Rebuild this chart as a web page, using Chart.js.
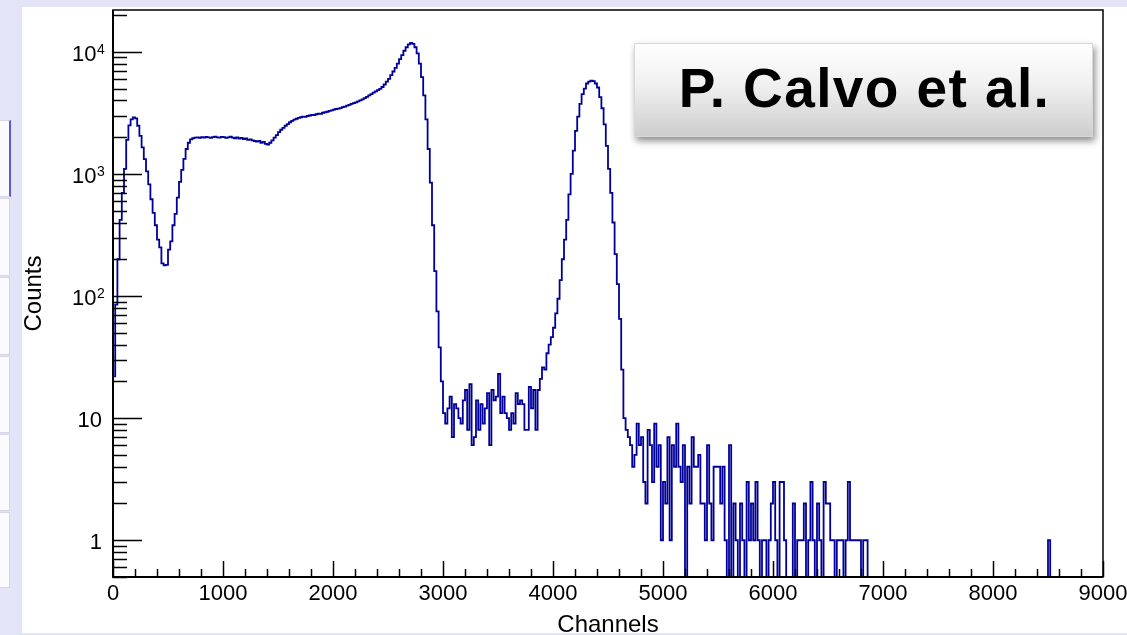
<!DOCTYPE html>
<html>
<head>
<meta charset="utf-8">
<title>Channels spectrum</title>
<script src="https://cdn.jsdelivr.net/npm/chart.js@4.4.1/dist/chart.umd.min.js"></script>
<style>
    html, body { margin: 0; padding: 0; }
    body {
        width: 1127px; height: 635px; overflow: hidden; position: relative;
        background: #e4e4f8;
    }
    #panel { position: absolute; left: 22px; top: 7px; width: 1105px; height: 626px; background: #fff; }
    .side { position: absolute; left: 0; width: 9px; background: #fbfbff; border: 1px solid #d4d4e6; border-left: none; }
</style>
</head>
<body>
<div class="side" style="top:120px;height:75px;border-right:2px solid #5a5ae0;"></div>
<div class="side" style="top:198px;height:76px;"></div>
<div class="side" style="top:277px;height:76px;"></div>
<div class="side" style="top:356px;height:75px;"></div>
<div class="side" style="top:434px;height:75px;"></div>
<div class="side" style="top:512px;height:74px;"></div>
<div id="panel"><canvas id="myChart" width="1105" height="626"></canvas></div>
<script>
// spectrum, 20 channels per bin starting at channel 0
const binWidth = 20;
const counts = [
    22, 85, 200, 420, 700, 1100, 1900, 2500, 2800, 2900,
    2850, 2480, 2050, 1650, 1320, 1050, 820, 620, 480, 380,
    290, 250, 185, 178, 180, 240, 280, 380, 470, 640,
    860, 1080, 1330, 1600, 1800, 1920, 1960, 1980, 1990, 1970,
    2000, 1980, 2010, 1990, 1970, 2000, 2020, 1990, 1980, 2010,
    // 1000
    2000, 1970, 1990, 2020, 1980, 1960, 1990, 1950, 1970, 1930,
    1950, 1900, 1920, 1880, 1860, 1840, 1860, 1800, 1830, 1760,
    1740, 1800, 1880, 1980, 2080, 2200, 2300, 2380, 2480, 2560,
    2650, 2720, 2780, 2830, 2880, 2910, 2950, 2930, 2980, 3010,
    3040, 3030, 3080, 3110, 3100, 3170, 3200, 3230, 3280, 3310,
    // 2000
    3360, 3400, 3430, 3460, 3520, 3560, 3620, 3680, 3740, 3800,
    3860, 3930, 4000, 4080, 4170, 4280, 4400, 4510, 4630, 4750,
    4860, 4980, 5150, 5400, 5700, 6000, 6450, 6900, 7400, 8000,
    8700, 9400, 10200, 10900, 11500, 11850, 11600, 10900, 9700, 8000,
    6200, 4400, 2800, 1600, 850, 380, 160, 75, 38, 20,
    // 3000
    11, 9, 12, 15, 7, 13, 12, 10, 9, 14,
    17, 8, 19, 6, 7, 14, 8, 13, 9, 12,
    16, 6, 17, 14, 15, 23, 11, 15, 11, 10,
    8, 11, 9, 16, 13, 14, 13, 8, 8, 18,
    12, 17, 8, 17, 21, 26, 25, 34, 40, 46,
    // 4000
    55, 72, 95, 135, 200, 290, 420, 680, 1000, 1550,
    2250, 2950, 3750, 4500, 5000, 5500, 5700, 5800, 5750, 5500,
    5100, 4250, 3450, 2550, 1700, 1100, 700, 400, 220, 125,
    65, 25, 10, 8, 7, 6, 4, 5, 9, 6,
    7, 3, 2, 8, 6, 3, 9, 4, 6, 1,
    // 5000
    3, 2, 7, 1, 6, 4, 9, 4, 3, 6,
    0, 4, 2, 7, 4, 4, 5, 2, 2, 1,
    6, 2, 1, 4, 4, 4, 2, 4, 1, 0,
    6, 0, 2, 1, 0, 2, 1, 0, 3, 1,
    2, 1, 3, 1, 0, 1, 1, 0, 1, 2,
    // 6000
    3, 1, 0, 3, 3, 1, 0, 0, 0, 2,
    0, 1, 1, 1, 2, 0, 1, 3, 1, 0,
    2, 1, 0, 3, 2, 2, 1, 1, 0, 1,
    1, 1, 0, 1, 3, 1, 1, 1, 1, 1,
    0, 1, 1, 0
];
// lone counts far above the last peak
const tailChannels = [8500];
const tailCounts = [1];

const xTicks = [0, 1000, 2000, 3000, 4000, 5000, 6000, 7000, 8000, 9000];
const yTicks = [1, 10, 100, 1000, 10000];
const yTickBase = ["1", "10", "10", "10", "10"];
const yTickExp = ["", "", "2", "3", "4"];

const xMax = 9000;
const yMin = 0.5;
const yMax = 22000;
const EMPTY = 0.05; // empty bins drop below the frame

// one point per bin low edge; the step holds its height up to the next edge
const points = [];
counts.forEach((c, i) => points.push({ x: i * binWidth, y: c || EMPTY }));
points.push({ x: counts.length * binWidth, y: EMPTY });
tailChannels.forEach((ch, i) => {
    points.push({ x: ch, y: tailCounts[i] || EMPTY });
    points.push({ x: ch + binWidth, y: EMPTY });
});
points.push({ x: xMax, y: EMPTY });

const FONT = '"Liberation Sans", Arial, Helvetica, sans-serif';

// ROOT style frame: ticks inside the pad, labels and titles outside
const rootFrame = {
    id: "rootFrame",
    afterDatasetsDraw(chart) {
        const { ctx, chartArea: a, scales } = chart;
        const x = scales.x, y = scales.y;
        ctx.save();
        ctx.strokeStyle = "#000";

        ctx.lineWidth = 1.5;
        ctx.strokeRect(a.left, a.top, a.right - a.left, a.bottom - a.top);
        ctx.lineWidth = 2;
        ctx.beginPath();
        ctx.moveTo(a.left, a.top); ctx.lineTo(a.left, a.bottom); ctx.lineTo(a.right, a.bottom);
        ctx.stroke();

        // x ticks
        ctx.lineWidth = 1.5;
        ctx.beginPath();
        for (let v = 0; v <= xMax; v += 200) {
            const px = Math.round(x.getPixelForValue(v)) + 0.5;
            const len = v % 1000 === 0 ? 16 : 8;
            ctx.moveTo(px, a.bottom); ctx.lineTo(px, a.bottom - len);
        }
        // y ticks
        for (let d = 0.1; d <= yMax; d *= 10) {
            for (let k = 1; k <= 9; k++) {
                const v = Math.round(d * k * 100) / 100;
                if (v < yMin || v > yMax) continue;
                const py = Math.round(y.getPixelForValue(v)) + 0.5;
                const len = k === 1 ? 29 : 14;
                ctx.moveTo(a.left, py); ctx.lineTo(a.left + len, py);
            }
        }
        ctx.stroke();

        ctx.fillStyle = "#000";
        ctx.font = "22px " + FONT;
        ctx.textAlign = "center";
        ctx.textBaseline = "alphabetic";
        xTicks.forEach(v => ctx.fillText(String(v), x.getPixelForValue(v), 593));

        yTicks.forEach((v, i) => {
            const py = y.getPixelForValue(v);
            if (yTickExp[i]) {
                ctx.font = "22px " + FONT;
                ctx.textAlign = "right";
                ctx.textBaseline = "middle";
                ctx.fillText(yTickBase[i], 74.5, py + 3);
                ctx.font = "14px " + FONT;
                ctx.textAlign = "left";
                ctx.textBaseline = "alphabetic";
                ctx.fillText(yTickExp[i], 75, py + 2);
            } else {
                ctx.font = "22px " + FONT;
                ctx.textAlign = "right";
                ctx.textBaseline = "middle";
                ctx.fillText(yTickBase[i], 80, py + 2.5);
            }
        });

        // axis titles
        ctx.font = "24px " + FONT;
        ctx.textAlign = "center";
        ctx.textBaseline = "alphabetic";
        ctx.fillText("Channels", (a.left + a.right) / 2, 625);
        ctx.save();
        ctx.translate(12, (a.top + a.bottom) / 2);
        ctx.rotate(-Math.PI / 2);
        ctx.textBaseline = "middle";
        ctx.fillText("Counts", 0, 0);
        ctx.restore();

        // author label box
        const bx = 612, by = 36, bw = 459, bh = 94;
        ctx.save();
        ctx.shadowColor = "rgba(0,0,0,0.45)";
        ctx.shadowBlur = 7;
        ctx.shadowOffsetX = 2;
        ctx.shadowOffsetY = 4;
        const g = ctx.createLinearGradient(0, by, 0, by + bh);
        g.addColorStop(0, "#ffffff");
        g.addColorStop(0.45, "#f0f0f0");
        g.addColorStop(1, "#cdcdcd");
        ctx.fillStyle = g;
        ctx.fillRect(bx, by, bw, bh);
        ctx.restore();
        ctx.strokeStyle = "#d8d8d8";
        ctx.lineWidth = 1;
        ctx.strokeRect(bx + 0.5, by + 0.5, bw - 1, bh - 1);
        ctx.fillStyle = "#000";
        ctx.font = "bold 55px " + FONT;
        ctx.letterSpacing = "1.4px";
        ctx.textAlign = "center";
        ctx.fillText("P. Calvo et al.", bx + bw / 2 + 1, 100);
        ctx.restore();
    }
};

new Chart(document.getElementById("myChart"), {
    type: "line",
    data: {
        datasets: [
            {
                label: "Counts",
                data: points,
                stepped: "before",
                borderColor: "#000099",
                borderWidth: 1.8,
                pointRadius: 0,
                fill: false,
                clip: 0,
            },
        ],
    },
    options: {
        responsive: false,
        animation: false,
        events: [],
        layout: { padding: { left: 91, right: 24, top: 3, bottom: 56 } },
        plugins: { legend: { display: false }, tooltip: { enabled: false } },
        scales: {
            x: { type: "linear", min: 0, max: xMax, display: false },
            y: { type: "logarithmic", min: yMin, max: yMax, display: false },
        },
    },
    plugins: [rootFrame],
});
</script>
</body>
</html>
